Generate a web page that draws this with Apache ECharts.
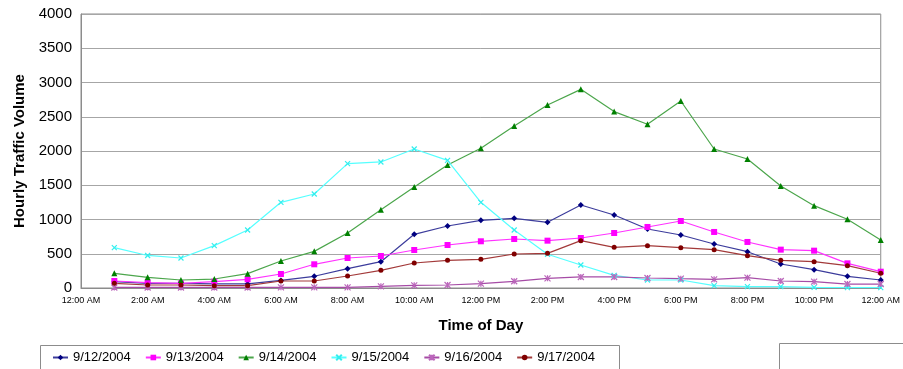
<!DOCTYPE html>
<html>
<head>
<meta charset="utf-8">
<script src="https://cdn.jsdelivr.net/npm/echarts@6/dist/echarts.min.js"></script>
<style>
  html, body { margin: 0; padding: 0; background: #fff; }
  #chart { width: 903px; height: 369px; }
</style>
</head>
<body>
<div id="chart"></div>
<script>
// Hours of day (1 = 1:00 AM ... 24 = 12:00 AM next day)
const hours = [1,2,3,4,5,6,7,8,9,10,11,12,13,14,15,16,17,18,19,20,21,22,23,24];
const xTickLabels = ['12:00 AM','2:00 AM','4:00 AM','6:00 AM','8:00 AM','10:00 AM','12:00 PM',
                     '2:00 PM','4:00 PM','6:00 PM','8:00 PM','10:00 PM','12:00 AM'];
const seriesNames = ['9/12/2004','9/13/2004','9/14/2004','9/15/2004','9/16/2004','9/17/2004'];

const v0912 = [92, 68, 68, 60, 60, 110, 171, 282, 384, 784, 905, 988, 1017, 959, 1212, 1066, 861, 774, 642, 530, 350, 267, 171, 117];
const v0913 = [102, 78, 68, 92, 127, 204, 346, 438, 467, 555, 628, 682, 715, 691, 730, 803, 891, 978, 818, 672, 560, 545, 360, 238];
const v0914 = [214, 156, 117, 131, 209, 394, 535, 803, 1143, 1475, 1796, 2040, 2365, 2672, 2900, 2575, 2390, 2730, 2029, 1883, 1489, 1202, 1003, 701];
const v0915 = [590, 475, 438, 618, 847, 1251, 1372, 1815, 1840, 2029, 1864, 1251, 847, 492, 336, 185, 117, 117, 34, 19, 19, 10, 5, 5];
const v0916 = [8, 8, 8, 8, 8, 10, 10, 10, 24, 39, 44, 63, 98, 141, 161, 161, 146, 136, 127, 151, 102, 92, 58, 58];
const v0917 = [68, 44, 44, 34, 34, 102, 102, 175, 258, 365, 404, 419, 496, 506, 691, 594, 618, 589, 560, 472, 404, 384, 326, 215];

const values = [v0912, v0913, v0914, v0915, v0916, v0917];

const styles = [
  { line: '#3c3c9c', mark: '#000080', symbol: 'diamond', size: 6, stroke: false },
  { line: '#ff33ff', mark: '#ff00ff', symbol: 'rect', size: 6, stroke: false },
  { line: '#4ca64c', mark: '#008000', symbol: 'triangle', size: 6, stroke: false },
  { line: '#55ffff', mark: '#33eeee', symbol: 'path://M0,0L10,10M10,0L0,10', size: 5, stroke: true },
  { line: '#a64ca6', mark: '#bb66bb', symbol: 'path://M5,0L5,10M0,0L10,10M10,0L0,10', size: 6, stroke: true },
  { line: '#a33a3a', mark: '#800000', symbol: 'circle', size: 5, stroke: false }
];

const series = seriesNames.map((name, i) => {
  const st = styles[i];
  return {
    name: name,
    type: 'line',
    data: hours.map((h, j) => [h, values[i][j]]),
    symbol: st.symbol,
    symbolSize: st.size,
    showAllSymbol: true,
    lineStyle: { color: st.line, width: 1.2 },
    itemStyle: st.stroke
      ? { color: 'rgba(0,0,0,0)', borderColor: st.mark, borderWidth: 1.2 }
      : { color: st.mark, borderWidth: 0 },
    emphasis: { disabled: true },
    animation: false
  };
});

const chart = echarts.init(document.getElementById('chart'), null, { renderer: 'canvas' });
chart.setOption({
  animation: false,
  backgroundColor: '#ffffff',
  textStyle: { fontFamily: 'Liberation Sans, Arial, sans-serif' },
  grid: {
    left: 81, right: 21, top: 14, bottom: 81,
    show: true, borderColor: '#8c8c8c', borderWidth: 1, backgroundColor: 'transparent'
  },
  legend: {
    left: 52, top: 351, padding: 0,
    itemWidth: 15, itemHeight: 7, itemGap: 14,
    textStyle: { fontSize: 13, color: '#000', fontFamily: 'Liberation Sans, Arial, sans-serif' },
    data: seriesNames.map((n, i) => ({ name: n, itemStyle: styles[i].stroke ? { color: styles[i].line, borderColor: styles[i].mark } : { color: styles[i].mark } }))
  },
  xAxis: {
    type: 'value', min: 0, max: 24, interval: 2,
    name: 'Time of Day', nameLocation: 'middle', nameGap: 30,
    nameTextStyle: { fontSize: 15, fontWeight: 'bold', color: '#000' },
    axisLine: { show: true, lineStyle: { color: '#8c8c8c' } },
    axisTick: { show: false },
    splitLine: { show: false },
    axisLabel: {
      fontSize: 9, color: '#000', margin: 8,
      formatter: (v) => xTickLabels[Math.round(v / 2)]
    }
  },
  yAxis: {
    type: 'value', min: 0, max: 4000, interval: 500,
    name: 'Hourly Traffic Volume', nameLocation: 'middle', nameGap: 50,
    nameTextStyle: { fontSize: 15, fontWeight: 'bold', color: '#000' },
    axisLine: { show: true, lineStyle: { color: '#8c8c8c' } },
    axisTick: { show: false },
    splitLine: { show: true, lineStyle: { color: '#a6a6a6', width: 1 } },
    axisLabel: { fontSize: 15, color: '#000', margin: 9, formatter: (v) => String(v) }
  },
  graphic: [
    { type: 'rect', left: 38, top: 343, shape: { width: 579, height: 40 },
      style: { fill: 'none', stroke: '#8c8c8c', lineWidth: 1 }, silent: true, z: -1 },
    { type: 'rect', left: 777, top: 341, shape: { width: 140, height: 40 },
      style: { fill: 'none', stroke: '#8c8c8c', lineWidth: 1 }, silent: true, z: -1 }
  ],
  series: series
});
</script>
</body>
</html>
